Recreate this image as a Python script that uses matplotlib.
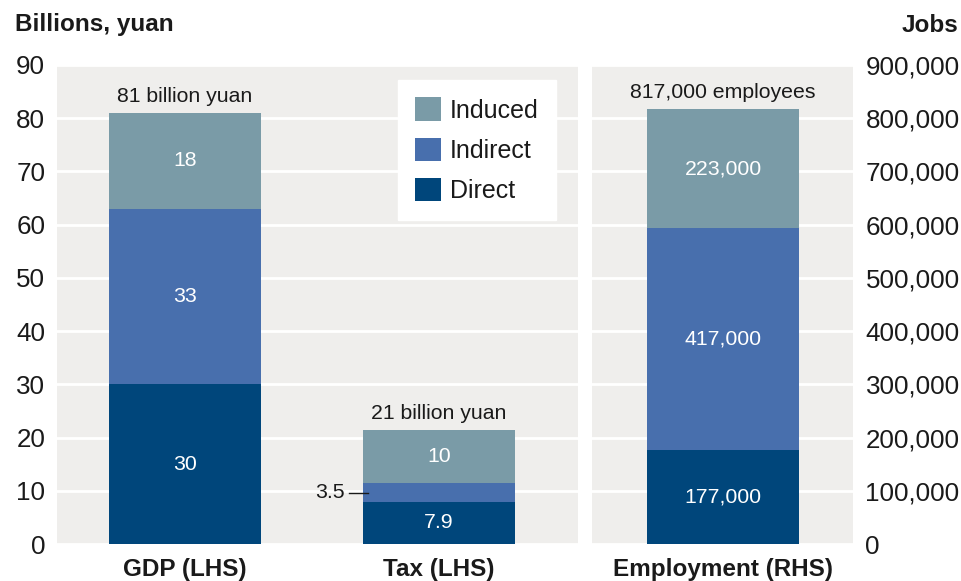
import matplotlib
matplotlib.use("Agg")
import matplotlib.pyplot as plt
from matplotlib.patches import Patch

plt.rcParams['font.family'] = ['Liberation Sans', 'DejaVu Sans']

# Data
left_categories = ["GDP (LHS)", "Tax (LHS)"]
left_direct = [30, 7.9]
left_indirect = [33, 3.5]
left_induced = [18, 10]
left_totals = ["81 billion yuan", "21 billion yuan"]

right_categories = ["Employment (RHS)"]
right_direct = [177000]
right_indirect = [417000]
right_induced = [223000]
right_totals = ["817,000 employees"]

series_names = ["Direct", "Indirect", "Induced"]
colors = {"Direct": "#00467b", "Indirect": "#486fad", "Induced": "#7a9ba7"}
bg = "#efeeec"
txt = "#1a1a1a"

fig = plt.figure(figsize=(9.62, 5.81), dpi=100)
ax1 = fig.add_axes([57/962, 1 - 544/581, 521/962, 479/581])
ax2 = fig.add_axes([592/962, 1 - 544/581, 261/962, 479/581])

bar_w = 0.6
seg_fs = 15.3
tick_fs = 18.7
cat_fs = 17.5


def style(ax, ymax, step, fmt, side):
    ax.set_facecolor(bg)
    for s in ax.spines.values():
        s.set_visible(False)
    ax.set_ylim(0, ymax)
    ticks = [i * step for i in range(10)]
    ax.set_yticks(ticks)
    ax.set_yticklabels([fmt(t) for t in ticks])
    ax.yaxis.grid(True, color="white", linewidth=2)
    ax.set_axisbelow(True)
    ax.tick_params(axis="y", length=0, labelsize=tick_fs, colors=txt, pad=8.5)
    ax.tick_params(axis="x", length=0, labelsize=cat_fs, colors=txt, pad=10)
    if side == "right":
        ax.yaxis.tick_right()
        ax.tick_params(axis="y", pad=9)


def stack(ax, x, d, i, n, totals, fmt_seg, skip_small=None):
    ax.bar(x, d, bar_w, color=colors["Direct"], zorder=2)
    ax.bar(x, i, bar_w, bottom=d, color=colors["Indirect"], zorder=2)
    base3 = [a + b for a, b in zip(d, i)]
    ax.bar(x, n, bar_w, bottom=base3, color=colors["Induced"], zorder=2)
    for k in range(len(x)):
        segs = [(d[k], 0), (i[k], d[k]), (n[k], base3[k])]
        for idx, (v, b) in enumerate(segs):
            if skip_small is not None and idx == 1 and v < skip_small:
                continue
            ax.text(x[k], b + v / 2, fmt_seg(v), ha="center", va="center",
                    color="white", fontsize=seg_fs, zorder=3)
        ax.annotate(totals[k], (x[k], base3[k] + n[k]), xytext=(0, 5),
                    textcoords="offset points", ha="center", va="bottom",
                    fontsize=seg_fs, color=txt)


# Left panel: GDP and tax
xl = list(range(len(left_categories)))
stack(ax1, xl, left_direct, left_indirect, left_induced, left_totals,
      lambda v: f"{v:g}", skip_small=5)
style(ax1, 90, 10, lambda t: f"{t:g}", "left")
ax1.set_xticks(xl)
ax1.set_xticklabels(left_categories)
for lab in ax1.get_xticklabels():
    lab.set_fontweight("bold")
ax1.set_xlim(-0.504, 1.547)

# Callout for the thin indirect tax segment
mid = left_direct[1] + left_indirect[1] / 2
ax1.plot([1 - 0.355, 1 - 0.28], [mid, mid], color=txt, linewidth=1, zorder=4)
ax1.text(1 - 0.37, mid, f"{left_indirect[1]:g}", ha="right", va="center",
         fontsize=seg_fs, color=txt)

# Right panel: employment
xr = list(range(len(right_categories)))
stack(ax2, xr, right_direct, right_indirect, right_induced, right_totals,
      lambda v: f"{v:,.0f}")
style(ax2, 900000, 100000, lambda t: f"{t:,.0f}", "right")
ax2.set_xticks(xr)
ax2.set_xticklabels(right_categories)
for lab in ax2.get_xticklabels():
    lab.set_fontweight("bold")
ax2.set_xlim(-0.516, 0.512)

# Legend
handles = [Patch(facecolor=colors[s], edgecolor="none", label=s)
           for s in reversed(series_names)]
leg = ax1.legend(handles=handles, loc="upper left",
                 bbox_to_anchor=((398 - 57) / 521, (544 - 80) / 479),
                 borderaxespad=0, frameon=True, fancybox=False,
                 fontsize=18, handlelength=1.04, handleheight=1.04,
                 handletextpad=0.35, labelspacing=0.6, borderpad=0.7)
leg.get_frame().set_facecolor("white")
leg.get_frame().set_edgecolor("white")
leg.get_frame().set_alpha(1)
for t in leg.get_texts():
    t.set_color(txt)

# Axis titles
fig.text(15/962, 1 - 25/581, "Billions, yuan", ha="left", va="center",
         fontsize=17.5, fontweight="bold", color=txt)
fig.text(958/962, 1 - 25/581, "Jobs", ha="right", va="center",
         fontsize=17.5, fontweight="bold", color=txt)

fig.savefig("out.png", dpi=100, facecolor="white")
